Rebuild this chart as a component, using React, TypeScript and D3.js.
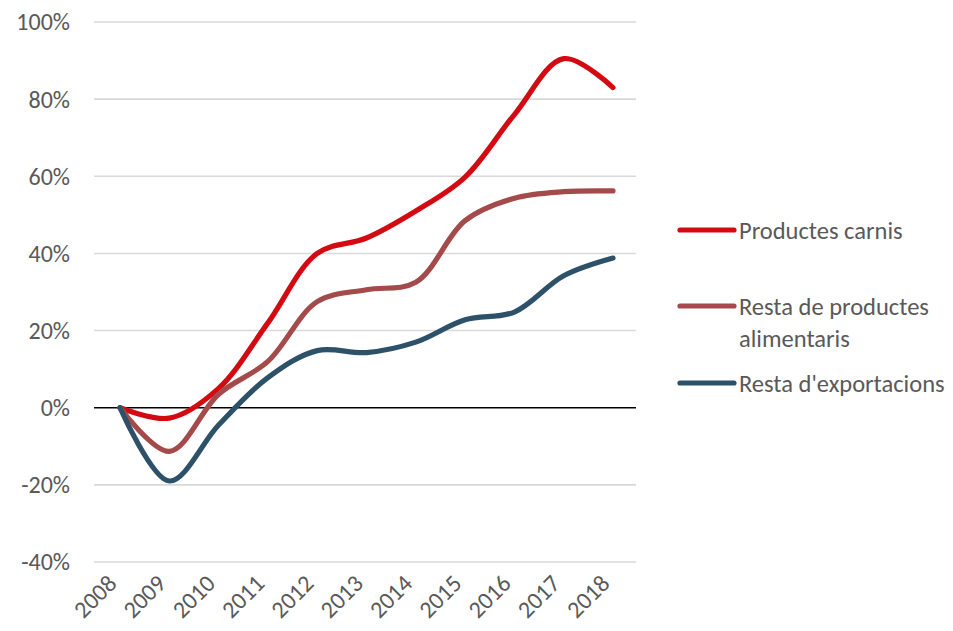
import React from "react";
import * as d3 from "d3";

const years = ["2008","2009","2010","2011","2012","2013","2014","2015","2016","2017","2018"];
const carnis = [0, -2.7, 5, 22, 40, 44, 51, 59.8, 76, 90.5, 83];
const alimentaris = [0, -11.3, 3.5, 12, 27.5, 30.6, 32.5, 48.5, 54.3, 56, 56.2];
const exportacions = [0, -19, -4.5, 7.8, 14.8, 14.3, 17, 22.8, 24.8, 34.2, 38.8];
const yTicks = [-40, -20, 0, 20, 40, 60, 80, 100];

const seriesNames = ["Productes carnis", "Resta de productes alimentaris", "Resta d'exportacions"];
const seriesColors = ["#D40A12", "#A54A4A", "#2C5168"];

export default function App() {
  const W = 953, H = 631;
  const x = d3.scalePoint<string>().domain(years).range([120, 613]);
  const y = d3.scaleLinear().domain([-40, 100]).range([562, 22]);
  const line = d3.line<number>()
    .x((_, i) => x(years[i])!)
    .y((d) => y(d))
    .curve(d3.curveCatmullRom.alpha(0.5));
  const data = [carnis, alimentaris, exportacions];
  const font = "Carlito, 'Liberation Sans', 'DejaVu Sans', sans-serif";
  const grey = "#595959";
  const legendY = [230, 306, 383];
  const fs = 24;
  const lfs = 24.5;
  return (
    <svg width={W} height={H} style={{ position: "absolute", left: 0, top: 0, background: "#fff" }} fontFamily={font}>
      {yTicks.map((t) => (
        <g key={t}>
          <line x1={94} x2={636} y1={y(t)} y2={y(t)} stroke={t === 0 ? "#000" : "#d9d9d9"} strokeWidth={1.6} />
          <text x={70} y={y(t)} dy="0.35em" textAnchor="end" fontSize={fs} fill={grey}>{t}%</text>
        </g>
      ))}
      {years.map((yr) => (
        <text key={yr} transform={`translate(${x(yr)! - 2},${585}) rotate(-45)`} textAnchor="end" fontSize={fs} fill={grey}>{yr}</text>
      ))}
      {data.map((d, i) => (
        <path key={i} d={line(d)!} fill="none" stroke={seriesColors[i]} strokeWidth={5.2} strokeLinecap="round" strokeLinejoin="round" />
      ))}
      {seriesNames.map((n, i) => (
        <g key={n}>
          <line x1={680} x2={734} y1={legendY[i]} y2={legendY[i]} stroke={seriesColors[i]} strokeWidth={5.2} strokeLinecap="round" />
          {i === 1 ? (
            <text x={739} y={legendY[i]} dy="0.35em" fontSize={lfs} fill={grey}>
              <tspan x={739}>Resta de productes</tspan>
              <tspan x={739} dy={32}>alimentaris</tspan>
            </text>
          ) : (
            <text x={739} y={legendY[i]} dy="0.35em" fontSize={lfs} fill={grey}>{n}</text>
          )}
        </g>
      ))}
    </svg>
  );
}
